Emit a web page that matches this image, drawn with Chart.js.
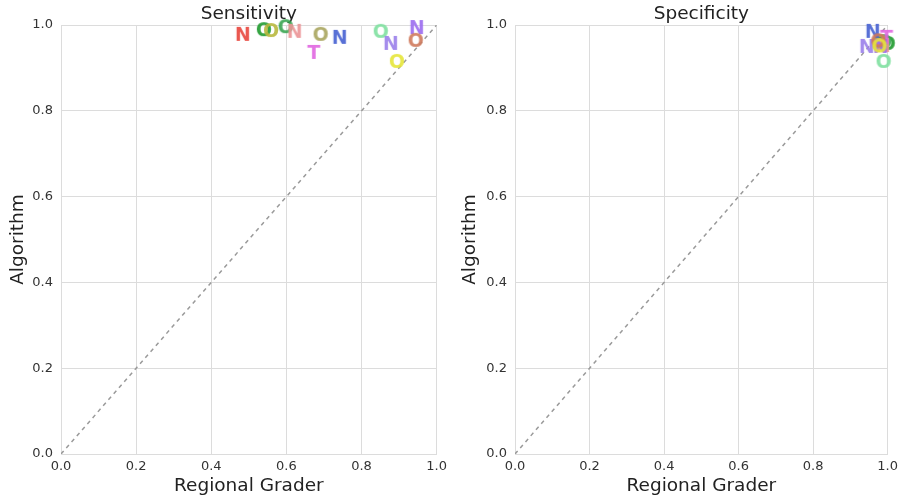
<!DOCTYPE html>
<html>
<head>
<meta charset="utf-8">
<script src="https://cdn.jsdelivr.net/npm/chart.js@4/dist/chart.umd.min.js"></script>
<style>
  body { margin: 0; background: #fff; }
  #wrap { position: relative; width: 903px; height: 503px; }
  .box { position: absolute; top: 0; height: 503px; }
</style>
</head>
<body>
<div id="wrap">
  <div class="box" style="left:0;width:452px"><canvas id="sens"></canvas></div>
  <div class="box" style="left:452px;width:451px"><canvas id="spec"></canvas></div>
</div>
<script>
// marker letters and their colours, one per grader
const letters = ['N', 'O', 'O', 'O', 'N', 'O', 'T', 'N', 'O', 'N', 'N', 'O', 'O'];
const colors = [
    '#e8453c', '#1f9a2e', '#b8b83e', '#3aa552', '#eb9496', '#a8a55e', '#e066e0',
    '#4660d2', '#7fe0a0', '#9a80ea', '#9b6cf0', '#cf7a5c', '#e6e63a'
];

// sensitivity: regional grader vs algorithm
const sensX = [0.484, 0.540, 0.559, 0.598, 0.622, 0.691, 0.673, 0.742, 0.851, 0.878, 0.947, 0.944, 0.894];
const sensY = [0.977, 0.988, 0.986, 0.995, 0.984, 0.977, 0.935, 0.970, 0.984, 0.956, 0.993, 0.963, 0.914];

// specificity: regional grader vs algorithm
const specX = [0.985, 1.000, 0.975, 0.990, 0.987, 0.980, 0.997, 0.960, 0.989, 0.944, 0.981, 0.975, 0.978];
const specY = [0.955, 0.956, 0.955, 0.960, 0.951, 0.960, 0.970, 0.984, 0.914, 0.949, 0.949, 0.962, 0.950];

const ticks = [0, 0.2, 0.4, 0.6, 0.8, 1.0];

function letterImage(ch, color) {
    const c = document.createElement('canvas');
    c.width = 24;
    c.height = 24;
    const g = c.getContext('2d');
    g.font = 'bold 19px "DejaVu Sans"';
    g.textAlign = 'center';
    g.textBaseline = 'middle';
    g.globalAlpha = 0.9;
    g.fillStyle = color;
    g.fillText(ch, 12, 13);
    return c;
}

function makeChart(id, title, xs, ys, yWidth, rightPad) {
    const pts = xs.map((x, i) => ({ x, y: ys[i] }));
    const styles = letters.map((l, i) => letterImage(l, colors[i]));
    const tickFont = { family: 'DejaVu Sans', size: 13 };
    const labelFont = { family: 'DejaVu Sans', size: 18.5 };
    return new Chart(document.getElementById(id), {
        type: 'scatter',
        data: {
            datasets: [{
                data: pts,
                pointStyle: styles,
                clip: false,
                order: 1
            }, {
                type: 'line',
                data: [{ x: 0, y: 0 }, { x: 1, y: 1 }],
                borderColor: '#9a9a9a',
                borderWidth: 1.5,
                borderDash: [4, 4],
                pointRadius: 0,
                order: 2
            }]
        },
        options: {
            responsive: true,
            maintainAspectRatio: false,
            animation: false,
            events: [],
            layout: { padding: { right: rightPad } },
            plugins: {
                legend: { display: false },
                tooltip: { enabled: false }
            },
            scales: {
                x: {
                    type: 'linear',
                    min: 0, max: 1,
                    afterBuildTicks: s => { s.ticks = ticks.map(v => ({ value: v })); },
                    afterFit: s => { s.height = 49; },
                    ticks: { color: '#333', font: tickFont, padding: 5, callback: v => v.toFixed(1), maxRotation: 0 },
                    grid: { color: '#dcdcdc', drawTicks: false },
                    border: { color: '#dcdcdc' },
                    title: { display: true, text: 'Regional Grader', color: '#222', font: labelFont, padding: { top: 6, bottom: 6 } }
                },
                // top axis only carries the panel title, centred over the plot
                top: {
                    type: 'linear',
                    position: 'top',
                    min: 0, max: 1,
                    afterFit: s => { s.height = 25; },
                    ticks: { display: false },
                    grid: { display: false },
                    border: { display: false },
                    title: { display: true, text: title, color: '#222', font: labelFont, padding: { top: 3, bottom: 0 } }
                },
                y: {
                    type: 'linear',
                    min: 0, max: 1,
                    afterBuildTicks: s => { s.ticks = ticks.map(v => ({ value: v })); },
                    afterFit: s => { s.width = yWidth; },
                    ticks: { color: '#333', font: tickFont, padding: 8, callback: v => v.toFixed(1) },
                    grid: { color: '#dcdcdc', drawTicks: false },
                    border: { color: '#dcdcdc' },
                    title: { display: true, text: 'Algorithm', color: '#222', font: labelFont, padding: { top: 7, bottom: 7 } }
                }
            }
        }
    });
}

makeChart('sens', 'Sensitivity', sensX, sensY, 61, 15);
makeChart('spec', 'Specificity', specX, specY, 63, 12);
</script>
</body>
</html>
